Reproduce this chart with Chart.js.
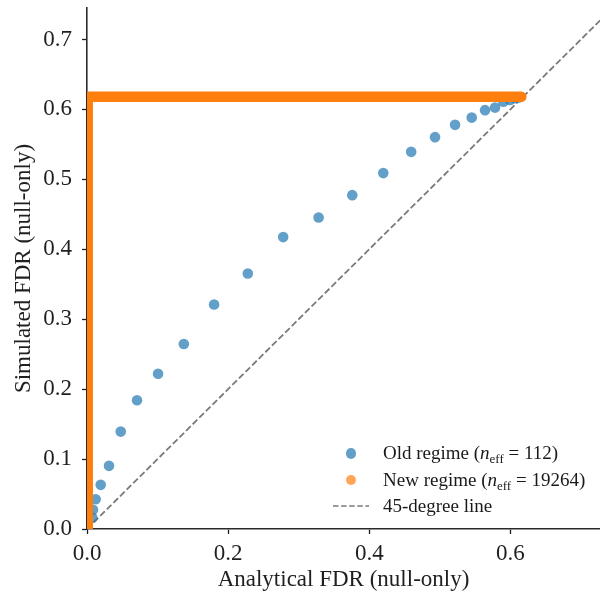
<!DOCTYPE html>
<html>
<head>
<meta charset="utf-8">
<script src="https://cdn.jsdelivr.net/npm/chart.js@4.4.0/dist/chart.umd.min.js"></script>
<style>
  html, body { margin: 0; padding: 0; background: #fff; }
  #wrap { position: relative; width: 600px; height: 599px; }
  #legend { position: absolute; left: 332px; top: 440px; font-family: 'Liberation Serif', serif; font-size: 19px; color: #1a1a1a; }
  #legend .row { display: flex; align-items: center; height: 26.5px; white-space: nowrap; }
  #legend .key { width: 38px; display: flex; justify-content: center; align-items: center; margin-right: 13px; }
  #legend .dot { width: 10.5px; height: 10.5px; border-radius: 50%; }
  #legend sub { font-size: 13px; vertical-align: -4px; line-height: 0; }
</style>
</head>
<body>
<div id="wrap">
  <canvas id="chart" width="600" height="599"></canvas>
  <div id="legend"></div>
</div>
<script>
// --- data ---
// old regime (n_eff = 112): analytical vs simulated FDR
const oldX = [0.0077, 0.0085, 0.0123, 0.0194, 0.0312, 0.0478, 0.0709, 0.1007, 0.1372, 0.1801, 0.2279, 0.2780,
              0.3282, 0.3759, 0.4199, 0.4594, 0.4932, 0.5216, 0.5452, 0.5641, 0.5783, 0.5901, 0.5996, 0.6067, 0.6120];
const oldY = [0.0160, 0.0274, 0.0426, 0.0631, 0.0903, 0.1393, 0.1840, 0.2221, 0.2646, 0.3211, 0.3654, 0.4174,
              0.4454, 0.4774, 0.5089, 0.5393, 0.5603, 0.5779, 0.5883, 0.5989, 0.6026, 0.6111, 0.6136, 0.6160, 0.6170];
// new regime (n_eff = 19264): dense points forming an L (corners of the run)
const newX = [0.001, 0.001, 0.6155];
const newY = [0.000, 0.618, 0.618];
// 45-degree reference line
const diagX = [0, 1];
const diagY = [0, 1];

const xTicks = [0.0, 0.2, 0.4, 0.6];
const yTicks = [0.0, 0.1, 0.2, 0.3, 0.4, 0.5, 0.6, 0.7];

const seriesLabels = [
    'Old regime (<i>n</i><sub>eff</sub> = 112)',
    'New regime (<i>n</i><sub>eff</sub> = 19264)',
    '45-degree line'
];

const BLUE = 'rgba(31, 119, 180, 0.7)';
const ORANGE = 'rgba(255, 127, 14, 0.7)';
const ORANGE_SOLID = '#ff7f0e';
const GREY = '#7a7a7a';
const INK = '#1f1f1f';
const SERIF = "'Liberation Serif', 'Times New Roman', serif";

const zip = (xs, ys) => xs.map((x, i) => ({x: x, y: ys[i]}));

// no extra room for half labels at the ends of the axes
function noEndPadding(s) {
    s.paddingLeft = 0; s.paddingRight = 0; s.paddingTop = 0; s.paddingBottom = 0;
}

// --- chart ---
const ctx = document.getElementById('chart').getContext('2d');
const chart = new Chart(ctx, {
    type: 'scatter',
    data: {
        datasets: [
            {
                label: 'New regime',
                data: zip(newX, newY),
                showLine: true,
                borderColor: ORANGE_SOLID,
                borderWidth: 10.5,
                borderCapStyle: 'round',
                borderJoinStyle: 'miter',
                pointRadius: 0,
                clip: 0,
                order: 0
            },
            {
                label: 'Old regime',
                data: zip(oldX, oldY),
                backgroundColor: BLUE,
                borderWidth: 0,
                pointRadius: 5.3,
                order: 1
            },
            {
                label: '45-degree line',
                data: zip(diagX, diagY),
                showLine: true,
                borderColor: GREY,
                borderWidth: 1.8,
                borderDash: [6.5, 2.8],
                pointRadius: 0,
                clip: 0,
                order: 2
            }
        ]
    },
    options: {
        responsive: false,
        animation: false,
        devicePixelRatio: 1,
        layout: { autoPadding: false, padding: { top: 8, right: 0, bottom: 0, left: 0 } },
        plugins: { legend: { display: false }, tooltip: { enabled: false } },
        scales: {
            x: {
                type: 'linear',
                min: 0,
                max: 0.727,
                afterBuildTicks: s => { s.ticks = xTicks.map(v => ({value: v})); },
                afterFit: s => { s.height = 70; noEndPadding(s); },
                ticks: {
                    callback: v => v.toFixed(1),
                    font: { family: SERIF, size: 23 },
                    color: INK,
                    padding: 6,
                    maxRotation: 0
                },
                grid: { drawOnChartArea: false, drawTicks: true, tickLength: 5, tickColor: INK, tickWidth: 1.3 },
                border: { color: '#2a2a2a', width: 1.6 },
                title: {
                    display: true,
                    text: 'Analytical FDR (null-only)',
                    font: { family: SERIF, size: 23 },
                    color: INK,
                    padding: { top: 0, bottom: 5 }
                }
            },
            y: {
                type: 'linear',
                min: 0,
                max: 0.745,
                afterBuildTicks: s => { s.ticks = yTicks.map(v => ({value: v})); },
                afterFit: s => { s.width = 87; noEndPadding(s); },
                ticks: {
                    callback: v => v.toFixed(1),
                    font: { family: SERIF, size: 23 },
                    color: INK,
                    padding: 10
                },
                grid: { drawOnChartArea: false, drawTicks: true, tickLength: 5, tickColor: INK, tickWidth: 1.3 },
                border: { color: '#2a2a2a', width: 1.6 },
                title: {
                    display: true,
                    text: 'Simulated FDR (null-only)',
                    font: { family: SERIF, size: 23 },
                    color: INK,
                    padding: { top: 10, bottom: 0 }
                }
            }
        }
    }
});

// --- legend (HTML, so the subscript stays real text) ---
const legendEl = document.getElementById('legend');
const keys = [
    `<span class="dot" style="background:${BLUE}"></span>`,
    `<span class="dot" style="background:${ORANGE}"></span>`,
    `<svg width="38" height="4"><line x1="1" y1="2" x2="37" y2="2" stroke="${GREY}" stroke-width="1.6" stroke-dasharray="5.5 2.6"/></svg>`
];
legendEl.innerHTML = seriesLabels.map((lab, i) =>
    `<div class="row"><span class="key">${keys[i]}</span><span>${lab}</span></div>`
).join('');
</script>
</body>
</html>
